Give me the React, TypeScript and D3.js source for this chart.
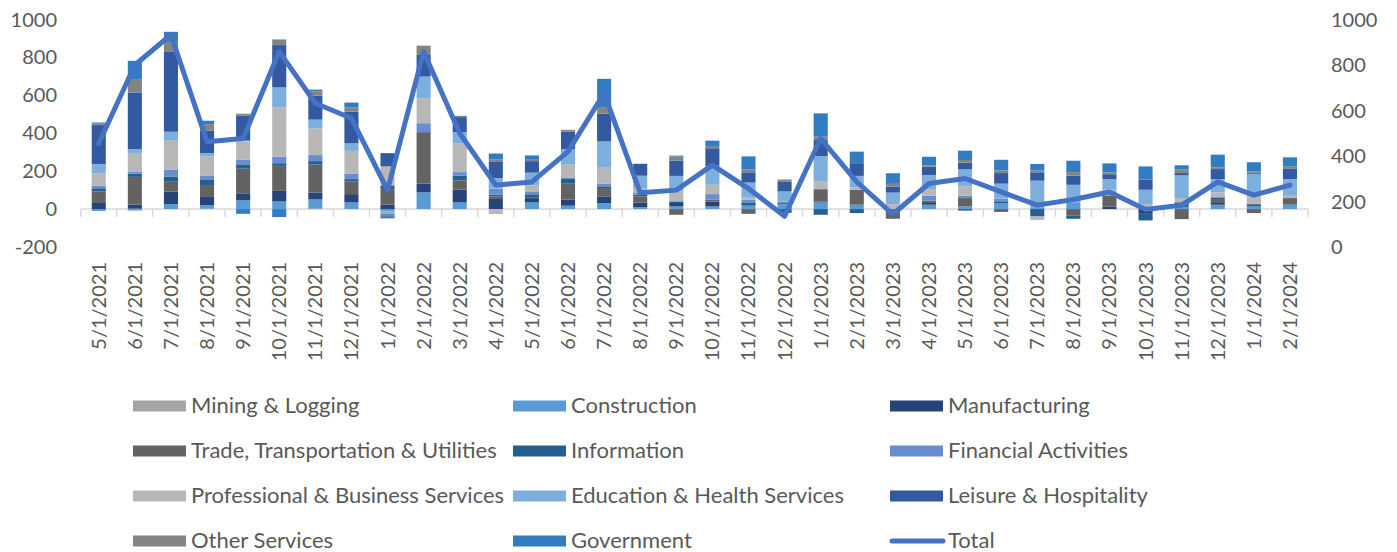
import * as d3 from 'd3';
import * as React from 'react';

const width = 1397;
const height = 552;

const months = [
  '5/1/2021', '6/1/2021', '7/1/2021', '8/1/2021', '9/1/2021', '10/1/2021', '11/1/2021', '12/1/2021',
  '1/1/2022', '2/1/2022', '3/1/2022', '4/1/2022', '5/1/2022', '6/1/2022', '7/1/2022', '8/1/2022',
  '9/1/2022', '10/1/2022', '11/1/2022', '12/1/2022', '1/1/2023', '2/1/2023', '3/1/2023', '4/1/2023',
  '5/1/2023', '6/1/2023', '7/1/2023', '8/1/2023', '9/1/2023', '10/1/2023', '11/1/2023', '12/1/2023',
  '1/1/2024', '2/1/2024',
];

// monthly change by sector (thousands)
const mining = [0, 2, 0, 2, 0, 0, 2, 0, 0, 0, 0, 0, 0, 0, 0, 0, 0, 0, 0, 0, 0, 0, 0, 0, 0, 0, 0, 0, 0, 0, 0, 0, 0, 0];
const construction = [-10, -8, 26, 18, 46, 40, 49, 35, -12, 88, 35, 0, 35, 18, 32, 10, 14, 14, 18, 26, 35, 23, 0, 23, 14, 32, 10, 32, 0, 0, 12, 23, 14, 23];
const manufacturing = [32, 21, 67, 44, 37, 56, 35, 44, 23, 46, 67, 53, 23, 32, 35, 25, 18, 26, 0, 5, 5, 0, 0, 9, 0, 0, 0, 0, 14, -25, 8, 9, 0, 0];
const trade = [61, 147, 51, 63, 130, 132, 149, 67, 88, 272, 49, 14, 5, 84, 44, 32, -30, 9, -25, 0, 65, 79, -51, 12, 44, -15, 0, -35, 58, 0, -53, 21, -21, 35];
const information = [17, 17, 28, 30, 23, 14, 18, 12, 14, 0, 26, 9, 15, 25, 9, 10, 7, 0, 14, -20, -30, -21, 0, 0, -8, 9, -39, -16, 0, -35, 12, 7, 12, 0];
const financial = [14, 9, 35, 18, 25, 35, 32, 28, 0, 47, 18, 32, 12, 5, 14, 8, 7, 30, 18, 9, 0, 0, 0, 26, 12, 14, 0, 0, 0, 0, 5, 7, 0, 0];
const professional = [65, 100, 154, 102, 96, 260, 140, 121, 100, 132, 153, -26, 35, 70, 88, 23, 47, 49, 10, 0, 40, 12, 26, 35, 49, 0, -18, 0, 30, 23, 21, 21, 40, 12];
const education = [49, 21, 47, 18, 5, 105, 47, 40, -13, 114, 58, 56, 67, 82, 135, 68, 82, 100, 80, 53, 135, 61, 61, 75, 91, 79, 140, 96, 56, 79, 120, 70, 120, 88];
const leisure = [205, 298, 421, 118, 132, 223, 126, 167, 70, 114, 79, 88, 61, 93, 146, 63, 81, 93, 54, 53, 84, 63, 32, 44, 35, 56, 44, 49, 26, 53, 12, 53, 5, 54];
const otherServices = [9, 67, 53, 35, 9, 30, 23, 23, -12, 49, 7, 9, 7, 9, 35, 0, 21, 12, 16, 10, 18, 0, 14, 5, 14, 14, 9, 18, 10, 0, 18, 9, 7, 12];
const government = [5, 100, 53, 18, -25, -42, 9, 25, -12, 0, 0, 32, 23, 0, 149, 0, 5, 28, 68, 0, 123, 65, 56, 47, 49, 56, 35, 60, 47, 70, 23, 67, 49, 49];
const total = [455, 800, 933, 463, 477, 859, 632, 566, 250, 859, 500, 272, 286, 419, 676, 238, 250, 360, 257, 135, 477, 286, 144, 279, 301, 242, 184, 209, 242, 165, 184, 286, 228, 272];

const leftTicks = [-200, 0, 200, 400, 600, 800, 1000];
const rightTicks = [0, 200, 400, 600, 800, 1000];

const series = [
  { name: 'Mining & Logging', values: mining, color: '#A5A5A5' },
  { name: 'Construction', values: construction, color: '#5B9BD5' },
  { name: 'Manufacturing', values: manufacturing, color: '#264478' },
  { name: 'Trade, Transportation & Utilities', values: trade, color: '#636363' },
  { name: 'Information', values: information, color: '#255E91' },
  { name: 'Financial Activities', values: financial, color: '#698ED0' },
  { name: 'Professional & Business Services', values: professional, color: '#B7B7B7' },
  { name: 'Education & Health Services', values: education, color: '#7CAFDD' },
  { name: 'Leisure & Hospitality', values: leisure, color: '#335AA1' },
  { name: 'Other Services', values: otherServices, color: '#848484' },
  { name: 'Government', values: government, color: '#327DC2' },
];

const lineColor = '#4472C4';
const textColor = '#595959';
const font = 'Lato, "Open Sans", sans-serif';

export default function App() {
  const x = d3.scaleBand<string>().domain(months).range([80.7, 1308]).paddingInner(0.61).paddingOuter(0.305);
  const y = d3.scaleLinear().domain([-200, 1000]).range([247, 19.5]);
  const y2 = d3.scaleLinear().domain([0, 1000]).range([247, 19.5]);

  const rows = months.map((m, i) => {
    const r: Record<string, number | string> = { month: m };
    series.forEach(s => (r[s.name] = s.values[i]));
    return r;
  });
  const stacked = d3
    .stack<any>()
    .keys(series.map(s => s.name))
    .offset(d3.stackOffsetDiverging)(rows);

  const line = d3
    .line<number>()
    .x((d, i) => (x(months[i]) as number) + x.bandwidth() / 2)
    .y(d => y2(d));

  const step = x.step();
  const x0 = x.range()[0];
  const zeroY = y(0);

  return (
    <svg width={width} height={height} style={{ position: 'absolute', left: 0, top: 0 }} fontFamily={font}>
      {/* axis line and ticks */}
      <line x1={x0} x2={x.range()[1]} y1={zeroY} y2={zeroY} stroke="#D9D9D9" strokeWidth={1.5} />
      {d3.range(months.length + 1).map(i => (
        <line key={i} x1={x0 + i * step} x2={x0 + i * step} y1={zeroY} y2={zeroY + 8} stroke="#D9D9D9" strokeWidth={1.5} />
      ))}

      {stacked.map((layer, k) => (
        <g key={series[k].name} fill={series[k].color}>
          {layer.map((d, i) => {
            const top = y(Math.max(d[0], d[1]));
            const h = Math.abs(y(d[0]) - y(d[1]));
            if (h < 0.01) return null;
            return <rect key={i} x={x(months[i])} y={top} width={x.bandwidth()} height={h} />;
          })}
        </g>
      ))}

      <path d={line(total) || ''} fill="none" stroke={lineColor} strokeWidth={5} strokeLinejoin="round" strokeLinecap="round" />

      {/* left axis */}
      {leftTicks.map(t => (
        <text key={t} x={57} y={y(t)} dy="0.35em" textAnchor="end" fontSize={20} fill={textColor}>
          {t}
        </text>
      ))}
      {/* right axis */}
      {rightTicks.map(t => (
        <text key={t} x={1331} y={y2(t)} dy="0.35em" textAnchor="start" fontSize={20} fill={textColor}>
          {t}
        </text>
      ))}
      {/* month labels */}
      {months.map(m => {
        const cx = (x(m) as number) + x.bandwidth() / 2;
        return (
          <text key={m} transform={`translate(${cx},262) rotate(-90)`} dy="0.35em" textAnchor="end" fontSize={20} fill={textColor}>
            {m}
          </text>
        );
      })}

      {/* legend */}
      {[...series.map(s => s.name), 'Total'].map((name, i) => {
        const col = i % 3;
        const row = Math.floor(i / 3);
        const lx = [133, 513, 890][col];
        const ly = 406 + row * 45;
        const s = series.find(d => d.name === name);
        return (
          <g key={name}>
            {s ? (
              <rect x={lx} y={ly - 5.5} width={53} height={11} fill={s.color} />
            ) : (
              <line x1={lx + 2} x2={lx + 53} y1={ly} y2={ly} stroke={lineColor} strokeWidth={5} strokeLinecap="round" />
            )}
            <text x={lx + 58} y={ly} dy="0.3em" fontSize={22} fill={textColor}>
              {name}
            </text>
          </g>
        );
      })}
    </svg>
  );
}
